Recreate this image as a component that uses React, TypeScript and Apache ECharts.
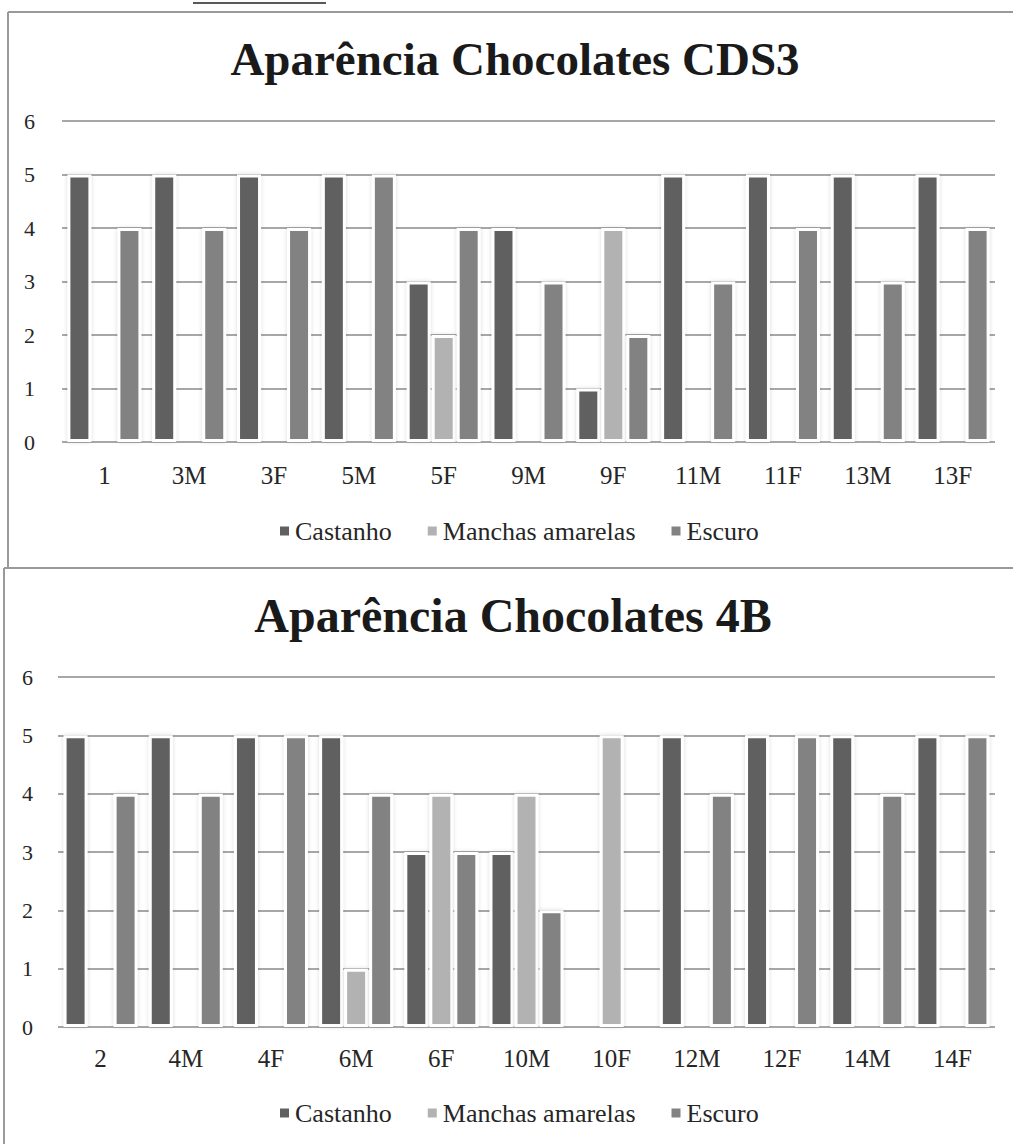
import React, { useEffect, useRef } from "react";
import * as echarts from "echarts";

// Chart 1: CDS3 samples
const categoriesCDS3 = ["1", "3M", "3F", "5M", "5F", "9M", "9F", "11M", "11F", "13M", "13F"];
const castanhoCDS3 = [5, 5, 5, 5, 3, 4, 1, 5, 5, 5, 5];
const manchasCDS3 = [0, 0, 0, 0, 2, 0, 4, 0, 0, 0, 0];
const escuroCDS3 = [4, 4, 4, 5, 4, 3, 2, 3, 4, 3, 4];

// Chart 2: 4B samples
const categories4B = ["2", "4M", "4F", "6M", "6F", "10M", "10F", "12M", "12F", "14M", "14F"];
const castanho4B = [5, 5, 5, 5, 3, 3, 0, 5, 5, 5, 5];
const manchas4B = [0, 0, 0, 1, 4, 4, 5, 0, 0, 0, 0];
const escuro4B = [4, 4, 5, 4, 3, 2, 0, 4, 5, 4, 5];

const seriesNames = ["Castanho", "Manchas amarelas", "Escuro"];
const seriesColors = ["#606060", "#b2b2b2", "#828282"];
const yTicks = [0, 1, 2, 3, 4, 5, 6];

const titleCDS3 = "Aparência Chocolates CDS3";
const title4B = "Aparência Chocolates 4B";

const FONT = '"Liberation Serif", "Times New Roman", serif';
const TEXT_COLOR = "#262626";
const LINE_COLOR = "#8a8a8a";

function makeAxes(gridIndex: number, categories: string[], labelMargin: number, yMargin: number) {
  const xAxis = {
    type: "category",
    gridIndex,
    data: categories,
    z: 3,
    axisTick: { show: false },
    axisLine: {
      lineStyle: {
        color: LINE_COLOR,
        width: 2,
        shadowColor: "rgba(0,0,0,0.35)",
        shadowBlur: 4,
        shadowOffsetY: 3,
      },
    },
    axisLabel: { fontFamily: FONT, fontSize: 25, color: TEXT_COLOR, margin: labelMargin },
  };
  const yAxis = {
    type: "value",
    gridIndex,
    min: yTicks[0],
    max: yTicks[yTicks.length - 1],
    interval: 1,
    axisLine: { show: false },
    axisTick: { show: false },
    axisLabel: { fontFamily: FONT, fontSize: 22, color: TEXT_COLOR, margin: yMargin },
    splitLine: { lineStyle: { color: LINE_COLOR, width: 1.5 } },
  };
  return { xAxis, yAxis };
}

// The white border sits inside each bar's box, leaving an 18px fill with a white halo
function makeSeries(gridIndex: number, values: number[][]) {
  return values.map((data, i) => ({
    name: seriesNames[i],
    type: "bar",
    xAxisIndex: gridIndex,
    yAxisIndex: gridIndex,
    data,
    barWidth: 24,
    barGap: "4.2%",
    itemStyle: {
      color: seriesColors[i],
      borderColor: "#ffffff",
      borderWidth: 3,
      shadowColor: "rgba(0,0,0,0.15)",
      shadowBlur: 4,
    },
  }));
}

export default function App() {
  const ref = useRef<HTMLDivElement>(null);

  useEffect(() => {
    if (!ref.current) return;
    const chart = echarts.init(ref.current, undefined, { renderer: "svg" });

    const a1 = makeAxes(0, categoriesCDS3, 21, 27);
    const a2 = makeAxes(1, categories4B, 19, 25);

    const legendBase = {
      left: 273,
      itemWidth: 11,
      itemHeight: 11,
      itemGap: 34,
      icon: "rect",
      data: seriesNames,
      textStyle: { fontFamily: FONT, fontSize: 26, color: TEXT_COLOR },
    };

    chart.setOption({
      animation: false,
      backgroundColor: "#ffffff",
      color: seriesColors,
      grid: [
        { left: 62, right: 18, top: 121, height: 321, containLabel: false },
        { left: 58, right: 18, top: 677, height: 350, containLabel: false },
      ],
      xAxis: [a1.xAxis, a2.xAxis],
      yAxis: [a1.yAxis, a2.yAxis],
      legend: [
        { ...legendBase, top: 513 },
        { ...legendBase, top: 1095 },
      ],
      series: [
        ...makeSeries(0, [castanhoCDS3, manchasCDS3, escuroCDS3]),
        ...makeSeries(1, [castanho4B, manchas4B, escuro4B]),
      ],
      graphic: [
        // page heading underline above the first chart
        { type: "line", shape: { x1: 193, y1: 3, x2: 326, y2: 3 }, style: { stroke: "#222", lineWidth: 1.5 } },
        // frame of the first chart
        { type: "line", shape: { x1: 8, y1: 12, x2: 1013, y2: 12 }, style: { stroke: "#9a9a9a", lineWidth: 2 } },
        { type: "line", shape: { x1: 8, y1: 12, x2: 8, y2: 568 }, style: { stroke: "#9a9a9a", lineWidth: 2 } },
        // frame of the second chart
        { type: "line", shape: { x1: 4, y1: 568, x2: 1013, y2: 568 }, style: { stroke: "#9a9a9a", lineWidth: 2 } },
        { type: "line", shape: { x1: 4, y1: 568, x2: 4, y2: 1144 }, style: { stroke: "#9a9a9a", lineWidth: 2 } },
        {
          type: "text",
          x: 515,
          y: 59,
          style: {
            text: titleCDS3,
            fontFamily: FONT,
            fontSize: 47,
            fontWeight: "bold",
            fill: "#1a1a1a",
            align: "center",
            verticalAlign: "middle",
          },
        },
        {
          type: "text",
          x: 513,
          y: 615,
          style: {
            text: title4B,
            fontFamily: FONT,
            fontSize: 48,
            fontWeight: "bold",
            fill: "#1a1a1a",
            align: "center",
            verticalAlign: "middle",
          },
        },
      ],
    });

    return () => chart.dispose();
  }, []);

  return (
    <div
      ref={ref}
      style={{ position: "absolute", left: 0, top: 0, width: 1013, height: 1144, background: "#fff" }}
    />
  );
}
